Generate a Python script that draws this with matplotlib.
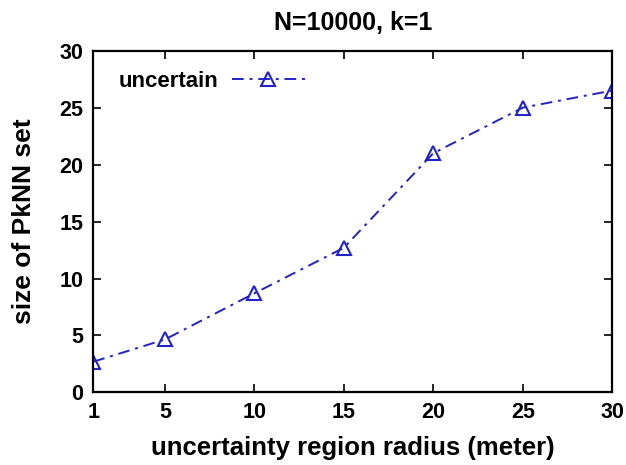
import matplotlib
matplotlib.use("Agg")
import matplotlib.pyplot as plt

plt.rcParams['font.family'] = ['Liberation Sans', 'DejaVu Sans']
plt.rcParams['font.weight'] = 'bold'

# data
radius = [1, 5, 10, 15, 20, 25, 30]
pknn_size = [2.7, 4.65, 8.7, 12.7, 21.0, 25.0, 26.5]
xticks = [1, 5, 10, 15, 20, 25, 30]
yticks = [0, 5, 10, 15, 20, 25, 30]

fig = plt.figure(figsize=(6.26, 4.65), dpi=100)
ax = fig.add_axes([0.149, 0.156, 0.829, 0.735])

ax.plot(radius, pknn_size, color='#2222c8', linestyle=(0, (6, 3, 1.5, 3)), linewidth=1.4,
        marker='^', markersize=10, markerfacecolor='none', markeredgewidth=1.5,
        label='uncertain')

ax.set_xlim(1, 30)
ax.set_ylim(0, 30)
ax.set_xticks(xticks)
ax.set_yticks(yticks)
ax.tick_params(direction='in', top=True, right=True, length=6, width=1.2,
               labelsize=15.5, pad=7)
for lbl in ax.get_xticklabels() + ax.get_yticklabels():
    lbl.set_fontweight('bold')
for sp in ax.spines.values():
    sp.set_linewidth(1.6)

ax.set_title('N=10000, k=1', fontsize=18, fontweight='bold', pad=15)
ax.set_xlabel('uncertainty region radius (meter)', fontsize=18.5, fontweight='bold', labelpad=9)
ax.set_ylabel('size of PkNN set', fontsize=19, fontweight='bold', labelpad=17)

leg = ax.legend(loc='upper left', frameon=False, markerfirst=False, fontsize=16,
                handlelength=3.3, handletextpad=0.6, bbox_to_anchor=(0.01, 1.0))
for t in leg.get_texts():
    t.set_fontweight('bold')

fig.savefig('out.png', dpi=100)
